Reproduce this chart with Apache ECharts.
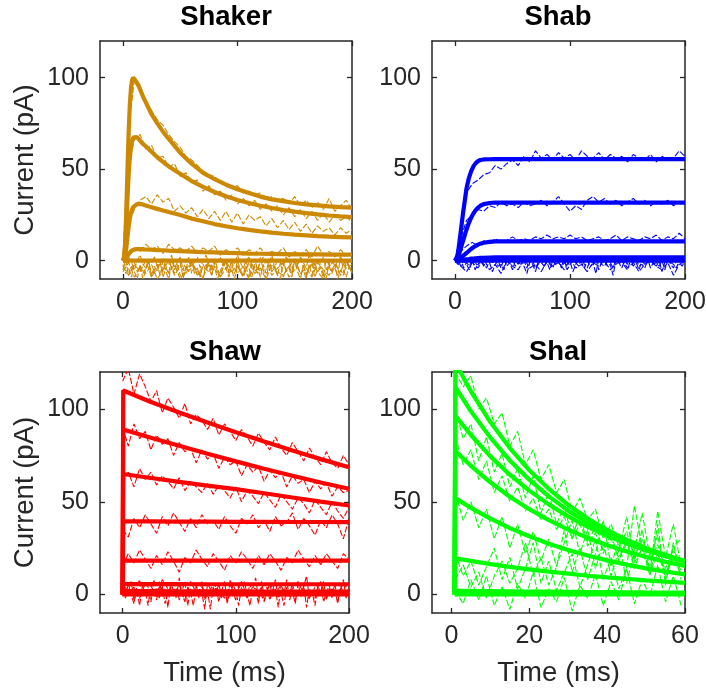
<!DOCTYPE html>
<html><head><meta charset="utf-8">
<script src="https://cdn.jsdelivr.net/npm/echarts@6/dist/echarts.min.js"></script>
<style>html,body{margin:0;padding:0;background:#fff}#c{width:706px;height:693px}</style>
</head><body><div id="c"></div>
<script>
// ---------------- DATA ----------------
const panelTitles = ['Shaker', 'Shab', 'Shaw', 'Shal'];
const xAxisLabel = 'Time (ms)';
const yAxisLabel = 'Current (pA)';
const xTicks200 = [0, 100, 200];
const xTicks60 = [0, 20, 40, 60];
const yTicks = [0, 50, 100];

// Shaker fits
const shakerT = [0,1,2,3,4,5,6,7,8,9,10,12,14,16,18,20,25,30,35,40,50,60,70,80,90,100,110,120,130,140,150,160,170,180,190,200];
const shakerFits = [
  [0,2,10,28,50,70,85,94,98.5,100,99.5,97.5,95,92,89,86.5,80,75,70.5,66.5,59,53,48,44.5,41.5,39,37,35,33.5,32.5,31.5,30.8,30.2,29.7,29.3,29],
  [0,1.5,7,19,34,47,56,62,65.5,67.2,67.9,67.6,66.3,64.8,63.5,62.5,59.5,56.5,54,51.5,47.5,43.5,40.3,37.5,35.2,33.2,31.5,30,28.8,27.7,26.8,26,25.3,24.7,24.2,23.8],
  [0,0.5,2.5,7,13,18.5,23,26,28,29.3,30.1,30.8,31,30.9,30.5,30.1,29.2,28.3,27.4,26.6,25,23,21.5,20,18.8,17.7,16.8,16,15.3,14.7,14.2,13.8,13.4,13.1,12.9,12.7],
  [0,0.1,0.5,1.3,2.5,3.6,4.5,5.1,5.6,5.9,6.1,6.3,6.3,6.3,6.2,6.1,6,5.8,5.7,5.5,5.2,5,4.7,4.5,4.3,4.1,3.9,3.8,3.7,3.6,3.5,3.4,3.4,3.3,3.3,3.3],
  [0,0,0,0,0,0,0,0,0,0,0,0,0,0,0,0,0,0,0,0,0,0,0,0,0,0,0,0,0,0,0,0,0,0,0,0]
];
const noiseT200 = [0,5,10,15,20,25,30,35,40,45,50,55,60,65,70,75,80,85,90,95,100,105,110,115,120,125,130,135,140,145,150,155,160,165,170,175,180,185,190,195,200];
const noiseTfine = [0,2.5,5,7.5,10,12.5,15,17.5,20,22.5,25,27.5,30,32.5,35,37.5,40,42.5,45,47.5,50,52.5,55,57.5,60,62.5,65,67.5,70,72.5,75,77.5,80,82.5,85,87.5,90,92.5,95,97.5,100,102.5,105,107.5,110,112.5,115,117.5,120,122.5,125,127.5,130,132.5,135,137.5,140,142.5,145,147.5,150,152.5,155,157.5,160,162.5,165,167.5,170,172.5,175,177.5,180,182.5,185,187.5,190,192.5,195,197.5,200];
const shakerNoise = [
  [0,72,99,96,87,82,77,74,69,65,62,57,55,52,49,47,46,43,42,40,41,37,38,36,37,33,35,33,34,31,35,30,33,29,32,28,34,27,30,33,28],
  [0,52,66,69,61,63,56,57,51,53,46,48,43,44,38,41,36,38,33,36,31,34,30,33,28,31,27,30,25,29,24,28,23,27,22,26,21,25,22,24,21],
  [0,20,28,33,35,31,36,32,34,27,30,26,29,24,28,23,27,22,27,21,26,20,25,22,24,19,23,18,22,17,21,16,20,15,19,16,18,14,18,15,17],
  [0,4,7,5,9,6,8,4,9,6,7,5,8,4,7,5,8,3,6,4,7,3,6,4,7,3,5,4,7,2,5,3,6,2,8,3,5,2,6,3,4],
  [-3,-8,-2,-6,0,-9,-4,1,-7,-2,-10,-5,0,-8,-3,-6,1,-9,-4,-1,-7,-3,-10,-2,-6,0,-8,-4,-1,-9,-5,1,-7,-2,-6,-10,-3,0,-8,-4,-2],
  [-6,-1,-9,-4,-7,-2,-10,-5,0,-8,-3,-7,-1,-6,-9,-2,-5,-8,0,-6,-3,-9,-1,-7,-4,-10,-2,-6,-8,-3,0,-7,-4,-9,-1,-5,-8,-2,-6,1,-7]
];
const shakerBand = [
  [-2,-7,-4,-9,-1,-6,-3,-10,-5,0,-8,-3,-6,-1,-9,-4,-7,1,-5,-2,-8,-10,-3,-6,0,-7,-4,-9,-2,-5,1,-8,-3,-10,-6,-1,-4,-9,-2,-7,0,-5,-8,-3,-10,-1,-6,-4,-9,-2,-7,1,-5,-3,-8,-10,-1,-6,-4,-9,0,-3,-7,-5,-10,-2,-8,-1,-6,-4,-9,1,-3,-7,-2,-10,-5,-8,0,-4,-6],
  [-5,0,-8,-3,-6,-10,-2,-7,-4,-1,-9,-5,-2,-8,0,-6,-10,-3,-7,-4,-1,-9,-5,2,-7,-3,-8,-6,-10,-2,-4,-8,-1,-6,-9,-3,0,-7,-5,-10,-2,-6,-8,-1,-4,-9,-3,-7,2,-5,-10,-2,-6,-4,-8,-1,-9,-5,-3,-7,0,-6,-10,-2,-8,-4,-1,-9,-5,-3,-7,-10,-1,-6,-4,-8,2,-5,-9,-3,-6],
  [1,-3,2,-1,-5,0,3,-2,-4,1,-1,2,-3,0,-6,1,-2,3,-4,-1,2,-5,0,1,-3,-1,2,-4,0,3,-2,-5,1,-1,2,-3,0,-6,1,-2,3,-1,-4,0,2,-3,1,-5,-1,2,0,-2,3,-4,1,-1,-3,2,0,-5,1,-2,2,-1,-4,3,0,-3,1,-2,2,-5,-1,1,-3,0,2,-2,-4,1,0]
];

// Shab fits
const shabT = [0,1,2,3,4,5,6,7,8,9,10,12,14,16,18,20,22,25,30,35,40,50,60,80,100,120,140,160,180,200];
const shabFits = [
  [0,0.5,2.5,6,11,16,21,26,30.5,35,39.5,45,48.8,51.5,53.3,54.4,55,55.3,55.4,55.5,55.5,55.5,55.5,55.5,55.5,55.5,55.5,55.5,55.5,55.5],
  [0,0.3,1.2,2.7,4.6,6.6,8.7,10.8,12.9,15,17,20.5,23.5,25.8,27.6,29,30,30.9,31.5,31.7,31.7,31.7,31.7,31.7,31.7,31.7,31.7,31.7,31.7,31.7],
  [0,0.1,0.3,0.7,1.1,1.6,2.1,2.6,3.2,3.7,4.2,5.3,6.4,7.3,8.1,8.8,9.3,9.8,10.3,10.5,10.6,10.6,10.6,10.6,10.6,10.6,10.6,10.6,10.6,10.6],
  [0,0,0.1,0.1,0.2,0.3,0.4,0.5,0.6,0.7,0.8,0.9,1.1,1.2,1.3,1.4,1.5,1.6,1.7,1.8,1.8,1.8,1.8,1.8,1.8,1.8,1.8,1.8,1.8,1.8],
  [0,0,0,0,0,0,0,0,0,0,0,0,0,0,0,0,0,0,0,0,0,0,0,0,0,0,0,0,0,0]
];
const shabNoise = [
  [0,15,37,42,44,47,48,52,50,53,55,52,57,54,60,56,58,55,59,56,58,55,60,57,56,59,55,58,56,57,54,58,56,55,58,54,57,55,56,60,57],
  [0,12,22,25,28,27,30,29,32,30,31,29,32,30,31,33,30,32,35,31,27,30,28,33,35,32,34,31,33,30,32,34,31,33,30,32,31,33,30,32,31],
  [0,5,8,10,8,11,9,12,10,11,13,11,12,11,13,12,14,12,13,12,14,12,13,11,12,13,11,12,14,11,13,12,11,13,12,14,11,13,12,15,12],
  [0,-3,-6,-1,-4,1,-5,-2,-7,0,-3,-5,1,-4,-2,-6,0,-3,-1,-5,1,-4,-2,-6,-1,-3,0,-5,-2,1,-4,-1,-6,-2,0,-3,-5,-1,-8,-2,0]
];
const shabBand = [
  [0,-2,1,-4,-1,-3,1,-5,-2,0,-3,1,-1,-6,-2,0,-4,1,-3,-1,-5,0,-2,1,-3,-7,-1,0,-4,-2,1,-3,-1,-5,0,-2,1,-4,-1,-3,0,-6,-2,1,-1,-4,0,-3,-2,1,-5,-1,0,-3,-2,-8,1,-1,-4,0,-2,1,-3,-1,-5,0,-2,1,-4,-1,-3,0,-6,-1,1,-2,-4,0,-1,-3,0],
  [-1,1,-3,0,-2,-5,0,-1,-3,1,-2,-4,0,-1,1,-3,-2,-5,0,-1,1,-3,-1,-2,0,-4,1,-2,-6,0,-1,-3,1,-2,-4,0,-1,-3,1,-5,-2,0,-1,-3,1,-2,-4,0,-1,-7,1,-2,-3,0,-1,-4,1,-2,0,-3,-5,0,-1,1,-3,-2,-4,0,1,-2,-1,-3,0,-5,1,-1,-2,-4,0,-1,-2]
];

// Shaw fits
const shawT = [0,0.5,25,50,75,100,125,150,175,200];
const shawFits = [
  [0,110,103.8,98.2,92.8,87.5,82.5,77.6,73,68.6],
  [0,89,84.5,80.2,75.9,71.8,67.8,64,60.4,57],
  [0,65,62.8,60.7,58.7,56.8,54.6,52.3,50.1,48],
  [0,39.5,39.4,39.3,39.3,39.2,39.2,39.1,39.1,39],
  [0,18.3,18.3,18.3,18.3,18.3,18.3,18.3,18.3,18.3],
  [0,5.6,5.6,5.6,5.5,5.5,5.5,5.5,5.5,5.5],
  [0,1.8,1.8,1.7,1.7,1.7,1.6,1.6,1.6,1.6],
  [0,0,0,0,0,0,0,0,0,0]
];
const shawNoise = [
  [115,122,108,119,112,104,110,98,106,101,95,103,92,97,94,89,95,86,92,88,83,89,85,80,87,82,78,85,79,75,82,77,72,79,74,70,77,71,68,75,70],
  [90,80,92,84,88,78,86,81,84,75,82,77,79,71,78,73,76,68,74,70,72,64,70,66,69,61,67,63,66,58,64,60,62,55,61,57,60,53,58,55,56],
  [60,66,58,68,62,66,59,64,61,57,63,56,61,58,55,60,54,59,56,52,58,50,56,53,49,55,51,47,54,50,46,52,49,44,51,47,43,50,45,41,47],
  [35,31,41,36,43,38,33,42,37,44,39,34,41,36,43,38,40,35,42,37,33,41,38,43,36,40,34,42,37,39,44,35,41,37,32,40,36,43,38,30,41],
  [15,22,17,24,19,14,21,16,23,18,12,20,17,24,19,15,22,18,13,21,17,23,19,14,21,16,22,18,13,20,17,24,19,15,21,16,22,18,14,22,19],
  [5,0,4,-2,6,2,-1,8,3,0,5,-3,7,1,4,-1,6,2,-2,5,0,7,-1,4,2,-3,6,1,5,-1,3,7,0,-2,4,6,-1,3,0,6,2]
];
const shawBand = [
  [3,-2,6,0,-5,4,8,-1,2,-6,5,1,-3,7,-1,3,-7,6,2,-2,9,0,-4,4,1,-6,5,-1,7,-3,2,-8,4,0,6,-2,3,-5,8,1,-3,5,-1,7,0,-6,3,9,-2,4,-4,1,6,-1,3,-7,5,0,8,-3,2,-5,6,-1,4,10,-2,1,-6,5,0,7,-3,3,-1,6,-4,2,8,-2,3],
  [-1,4,1,7,-3,2,-6,5,0,3,-4,8,2,-2,5,-5,1,4,-1,6,-3,2,7,-6,3,0,5,-2,1,-8,6,3,-1,4,-4,2,7,-3,0,5,2,-6,4,1,-2,6,-1,3,-5,7,0,4,-3,2,8,-2,1,-6,4,0,6,-3,2,-1,5,-7,3,1,-2,4,7,-4,1,5,-2,3,-5,6,0,-1,2]
];

// Shal fits
const shalT = [0.8,1,5,10,15,20,25,30,35,40,45,50,55,60];
const shalFits = [
  [0,125,109.6,93,79,67,57,48.3,41,34.8,29.5,25,21.3,18],
  [0,112,98.8,84.6,72.3,61.9,52.9,45.2,38.7,33.1,28.3,24.2,20.7,17.7],
  [0,96.4,86,74.5,64.6,56,48.6,42.1,36.5,31.6,27.5,23.8,20.6,17.9],
  [0,77.4,69.4,60.5,52.7,46,40.1,35,30.5,26.6,23.2,20.2,17.6,15.4],
  [0,52,46.7,40.9,35.8,31.4,27.4,24,21,18.4,16.1,14.1,12.3,10.8],
  [0,19.5,18.1,16.4,14.9,13.5,12.3,11.2,10.1,9.2,8.4,7.6,6.9,6.3],
  [0,2,1.9,1.8,1.7,1.6,1.5,1.4,1.3,1.25,1.2,1.1,1.05,1],
  [0,0,0,0,0,0,0,0,0,0,0,0,0,0]
];
const noiseT60 = [1,3,5,7,9,11,13,15,17,19,21,23,25,27,29,31,33,35,37,39,41,43,45,47,49,51,53,55,57,59];
const shalNoise = [
  [120,112,118,100,106,92,98,80,88,70,78,62,70,55,62,44,52,40,46,30,38,26,34,20,30,18,27,14,24,16],
  [100,84,92,72,85,66,76,58,68,52,64,44,55,38,48,30,44,26,38,22,33,18,30,14,26,12,22,10,20,13],
  [85,70,78,62,72,55,64,50,58,45,52,40,46,35,42,30,38,28,33,24,30,20,27,17,25,14,22,12,20,11],
  [55,40,50,36,46,30,42,25,38,22,34,18,30,15,28,40,22,35,14,28,10,24,42,18,35,12,45,20,38,15],
  [22,10,18,5,15,25,8,20,3,14,28,6,18,2,12,22,4,16,30,8,20,3,14,48,25,10,38,5,28,8],
  [2,-5,8,-3,10,-6,4,-8,6,-2,12,-7,3,-4,9,-9,5,-2,11,-6,7,-3,14,-5,8,-1,16,-4,10,-6],
  [8,16,4,12,-2,10,18,6,14,28,10,20,5,15,35,12,25,8,22,40,15,30,6,24,44,20,32,8,26,30]
];

// ---------------- STYLE / LAYOUT ----------------
const FONT = "'Liberation Sans', Arial, Helvetica, sans-serif";
const AXC = '#262626';
const panels = [
  {grid:{left:100, top:41, width:252, height:238}, xMin:-20, xMax:200, xTicks:xTicks200, ft:shakerT, fits:shakerFits, nt:noiseT200, noise:shakerNoise, bt:noiseTfine, band:shakerBand, color:'#CC8800', tx:226, ty:17},
  {grid:{left:432, top:41, width:253, height:238}, xMin:-20, xMax:200, xTicks:xTicks200, ft:shabT, fits:shabFits, nt:noiseT200, noise:shabNoise, bt:noiseTfine, band:shabBand, color:'#0000FF', tx:558, ty:17},
  {grid:{left:100, top:372, width:249, height:241}, xMin:-20, xMax:200, xTicks:xTicks200, ft:shawT, fits:shawFits, nt:noiseT200, noise:shawNoise, bt:noiseTfine, band:shawBand, color:'#FF0000', tx:225, ty:352},
  {grid:{left:432, top:372, width:253, height:241}, xMin:-5, xMax:60, xTicks:xTicks60, ft:shalT, fits:shalFits, nt:noiseT60, noise:shalNoise, bt:noiseT60, band:[], color:'#00FF00', tx:558, ty:352}
];

function axis(dim, gi, pos, min, max, ticks, showLabels, name) {
  return {
    type: 'value', gridIndex: gi, position: pos, min: min, max: max,
    axisLine: {show: true, onZero: false, lineStyle: {color: AXC, width: 1.5}},
    axisTick: {show: true, inside: true, length: 5, customValues: ticks, lineStyle: {color: AXC, width: 1.3}},
    axisLabel: {show: showLabels, customValues: ticks, margin: 11, color: AXC, fontSize: 25, fontFamily: FONT},
    splitLine: {show: false},
    name: name, nameLocation: 'middle', nameGap: dim === 'x' ? 46 : 61,
    nameTextStyle: {color: AXC, fontSize: 27.5, fontFamily: FONT}
  };
}
function pairs(t, y) { return t.map((x, i) => [x, y[i]]); }
function noiseSeries(i, t, y, color) {
  return {
    type: 'line', xAxisIndex: 2 * i, yAxisIndex: 2 * i, data: pairs(t, y),
    showSymbol: false, symbol: 'none', silent: true, clip: true,
    lineStyle: {color: color, width: 1.1, type: [6, 2]}
  };
}

const option = {animation: false, backgroundColor: '#fff', grid: [], xAxis: [], yAxis: [], series: [], graphic: []};
panels.forEach((p, i) => {
  option.grid.push(Object.assign({containLabel: false, outerBoundsMode: 'none'}, p.grid));
  option.xAxis.push(axis('x', i, 'bottom', p.xMin, p.xMax, p.xTicks, true, i >= 2 ? xAxisLabel : ''));
  option.xAxis.push(axis('x', i, 'top', p.xMin, p.xMax, p.xTicks, false, ''));
  option.yAxis.push(axis('y', i, 'left', -10, 120, yTicks, true, i % 2 === 0 ? yAxisLabel : ''));
  option.yAxis.push(axis('y', i, 'right', -10, 120, yTicks, false, ''));
  p.band.forEach(y => option.series.push(noiseSeries(i, p.bt, y, p.color)));
  p.noise.forEach(y => option.series.push(noiseSeries(i, p.nt, y, p.color)));
  p.fits.forEach(y => option.series.push({
    type: 'line', xAxisIndex: 2 * i, yAxisIndex: 2 * i, data: pairs(p.ft, y),
    showSymbol: false, symbol: 'none', silent: true, clip: true,
    lineStyle: {color: p.color, width: 4.2}
  }));
  option.graphic.push({type: 'text', x: p.tx, y: p.ty, silent: true,
    style: {text: panelTitles[i], align: 'center', verticalAlign: 'middle', fill: '#000',
      fontSize: 27.5, fontWeight: 'bold', fontFamily: FONT}});
});

const chart = echarts.init(document.getElementById('c'), null, {renderer: 'canvas'});
chart.setOption(option);
</script></body></html>
